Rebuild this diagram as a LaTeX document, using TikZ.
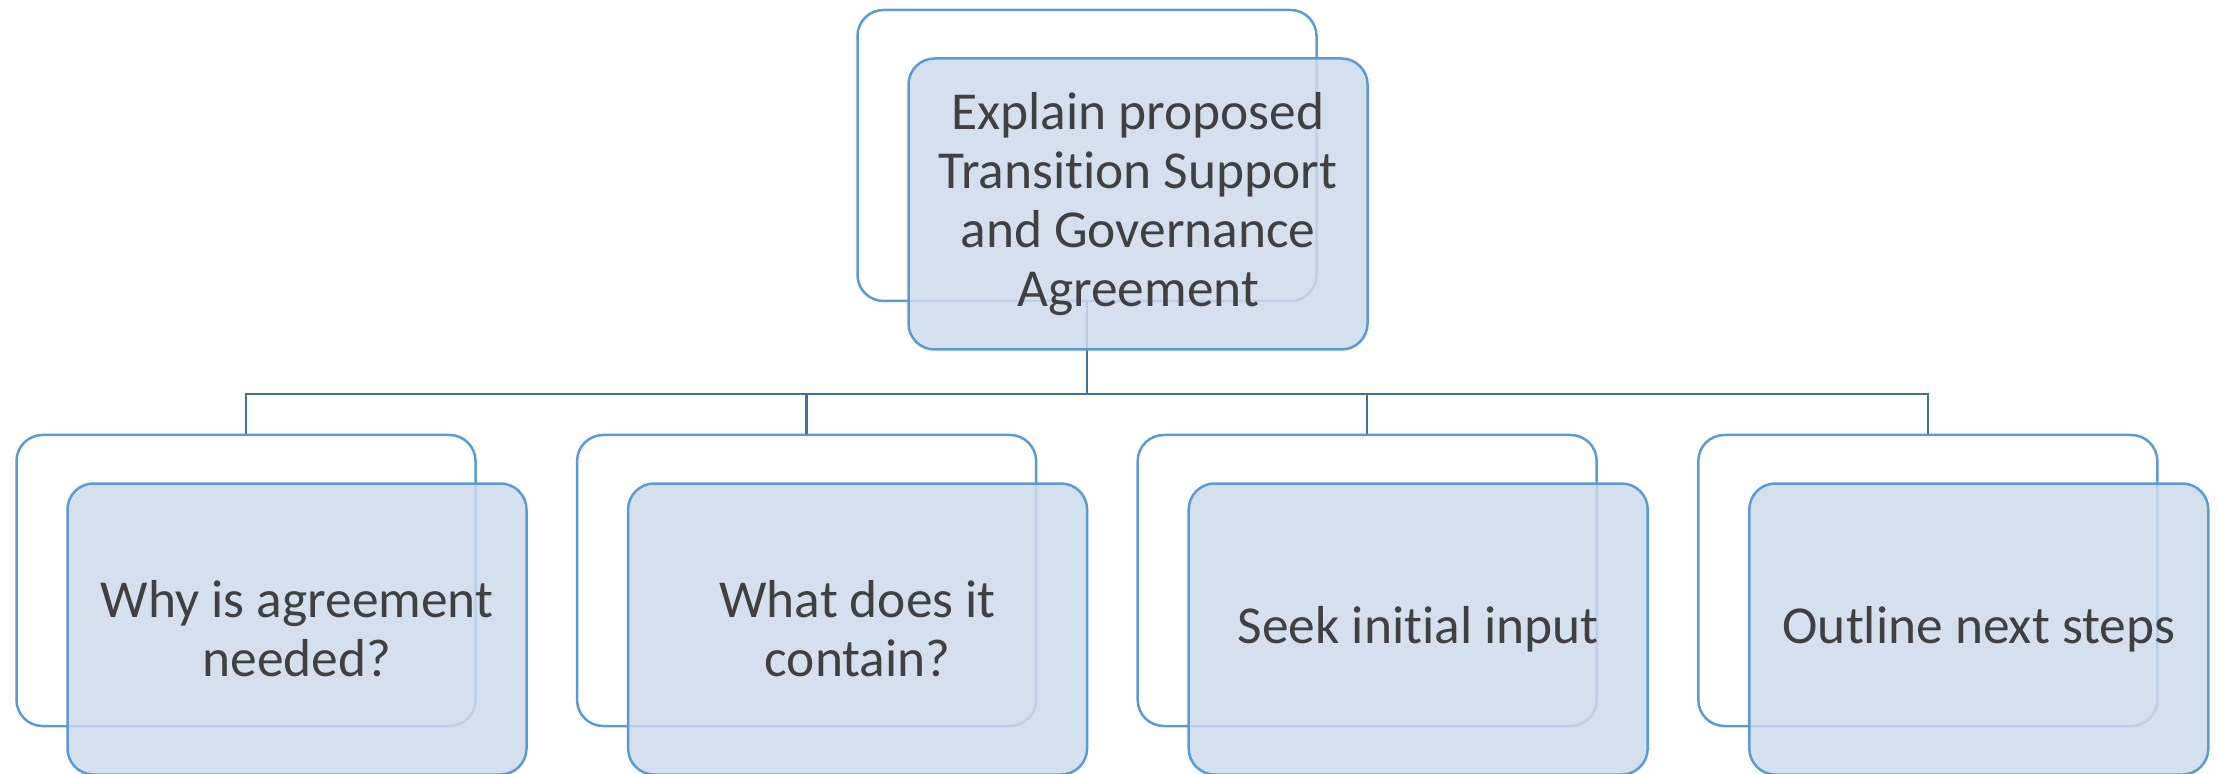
\documentclass[tikz,border=0pt]{standalone}
\usepackage{fontspec}
\setmainfont{Carlito}[Ligatures=NoCommon]
\usetikzlibrary{calc}

\definecolor{boxline}{RGB}{91,155,213}
\definecolor{boxfill}{RGB}{206,219,235}
\definecolor{linkline}{RGB}{65,113,156}
\definecolor{boxtext}{RGB}{64,64,64}

\tikzset{
  backbox/.style={draw=boxline, line width=1.25pt, rounded corners=13pt,
    minimum width=229.5pt, minimum height=145.5pt, inner sep=0pt},
  frontbox/.style={backbox, fill=boxfill, fill opacity=0.85, text opacity=1,
    text=boxtext, align=center, font=\fontsize{26.7}{29.5}\selectfont},
  link/.style={draw=linkline, line width=1.25pt},
}

\begin{document}
\begin{tikzpicture}[x=0.5pt, y=-0.5pt]
    \useasboundingbox (0,0) rectangle (2219,774);
    % back boxes
    \node[backbox] (topback) at (1087,155.5) {};
    \foreach \i/\x in {1/246, 2/806.6, 3/1367.2, 4/1927.8}
        \node[backbox] (back\i) at (\x,580.5) {};
    % connectors
    \draw[link] (topback.south) -- ++(0,92) coordinate (bus);
    \foreach \i in {1,...,4}
        \draw[link] (bus) -| (back\i.north);
    % front boxes
    \node[frontbox] (topfront) at ([shift={(51,48.5)}]topback.center)
        {Explain proposed\\Transition Support\\and Governance\\Agreement};
    \foreach \i/\txt in {1/{Why is agreement\\needed?}, 2/{What does it\\contain?},
                         3/{Seek initial input}, 4/{Outline next steps}}
        \node[frontbox] (front\i) at ([shift={(51,48.5)}]back\i.center) {\txt};
\end{tikzpicture}
\end{document}
